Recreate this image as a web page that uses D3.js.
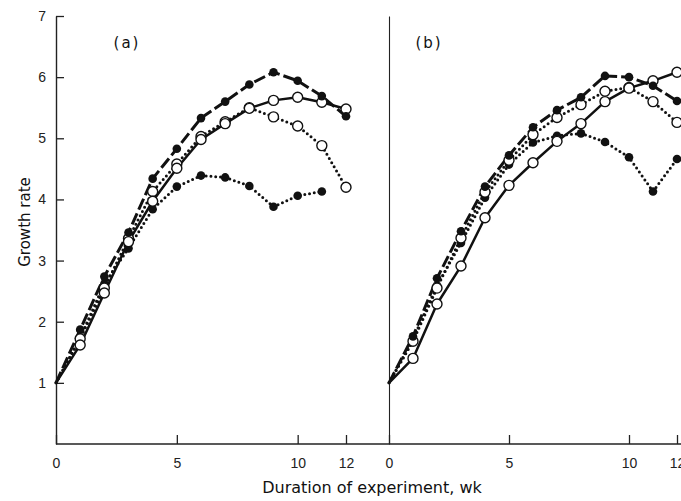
<!DOCTYPE html>
<html>
<head>
<meta charset="utf-8">
<script src="https://cdn.jsdelivr.net/npm/d3@7"></script>
<style>
  body { margin: 0; background: #fff; }
  svg { display: block; font-family: "DejaVu Sans", sans-serif; }
  .tick line { stroke: #222; stroke-width: 1.3; }
  .tick text { fill: #222; font-size: 14px; }
</style>
</head>
<body>
<div id="vis"></div>
<script>
// weeks of the experiment
var weeks = [0, 1, 2, 3, 4, 5, 6, 7, 8, 9, 10, 11, 12];
var yTicks = [1, 2, 3, 4, 5, 6, 7];
var xTicks = [0, 5, 10, 12];

// panel (a)
var aDashedFilled = [1, 1.87, 2.74, 3.46, 4.34, 4.83, 5.33, 5.60, 5.88, 6.08, 5.94, 5.69, 5.36];
var aSolidOpen    = [1, 1.62, 2.47, 3.31, 3.97, 4.51, 4.98, 5.24, 5.49, 5.62, 5.67, 5.59, 5.48];
var aDottedOpen   = [1, 1.72, 2.55, 3.36, 4.13, 4.58, 5.03, 5.27, 5.50, 5.35, 5.20, 4.88, 4.20];
var aDottedFilled = [1, 1.74, 2.62, 3.20, 3.84, 4.21, 4.39, 4.36, 4.22, 3.88, 4.06, 4.13];

// panel (b)
var bDashedFilled = [1, 1.76, 2.71, 3.48, 4.21, 4.72, 5.18, 5.46, 5.67, 6.02, 6.00, 5.86, 5.61];
var bSolidOpen    = [1, 1.40, 2.29, 2.91, 3.70, 4.23, 4.60, 4.95, 5.24, 5.60, 5.82, 5.94, 6.08];
var bDottedOpen   = [1, 1.68, 2.55, 3.37, 4.12, 4.64, 5.06, 5.34, 5.55, 5.77, 5.83, 5.60, 5.26];
var bDottedFilled = [1, 1.72, 2.59, 3.29, 4.03, 4.57, 4.93, 5.04, 5.08, 4.94, 4.69, 4.13, 4.66];

var width = 681;
var height = 501;

var svg = d3.select('#vis')
  .append('svg')
  .attr('width', width)
  .attr('height', height);

var y = d3.scaleLinear().domain([0, 7]).range([444, 16]);
var xA = d3.scaleLinear().domain([0, 12]).range([56, 346]);
var xB = d3.scaleLinear().domain([0, 12]).range([389, 677]);

var styles = {
  dashed: { width: 3, dash: '12,4', cap: 'butt' },
  solid: { width: 2.5, dash: null, cap: 'butt' },
  dotted: { width: 3, dash: '0,4.8', cap: 'round' }
};

function series(vals, style, open) {
  return { vals: vals, style: style, open: open };
}

var panels = [
  { x: xA, label: '(a)', labelX: 127, showY: true, series: [
    series(aDottedFilled, 'dotted', false),
    series(aDottedOpen, 'dotted', true),
    series(aSolidOpen, 'solid', true),
    series(aDashedFilled, 'dashed', false)
  ] },
  { x: xB, label: '(b)', labelX: 429, showY: false, series: [
    series(bDottedFilled, 'dotted', false),
    series(bDottedOpen, 'dotted', true),
    series(bSolidOpen, 'solid', true),
    series(bDashedFilled, 'dashed', false)
  ] }
];

// baseline runs across both panels
svg.append('line')
  .attr('x1', xA(0)).attr('x2', width)
  .attr('y1', y(0)).attr('y2', y(0))
  .attr('stroke', '#222').attr('stroke-width', 1.4);

panels.forEach(function (p) {
  var g = svg.append('g');

  // vertical axis
  var yAxis = d3.axisRight(y)
    .tickValues(p.showY ? yTicks : [])
    .tickSize(8)
    .tickSizeOuter(0)
    .tickFormat(d3.format('d'));
  var ya = g.append('g')
    .attr('transform', 'translate(' + p.x(0) + ',0)')
    .call(yAxis);
  ya.select('.domain').attr('stroke', '#222').attr('stroke-width', p.showY ? 1.4 : 1.1);
  ya.selectAll('.tick text')
    .attr('x', -10)
    .attr('text-anchor', 'end');

  // horizontal axis ticks
  var xAxis = d3.axisTop(p.x)
    .tickValues(xTicks)
    .tickSize(9)
    .tickSizeOuter(0)
    .tickFormat(d3.format('d'));
  var xa = g.append('g')
    .attr('transform', 'translate(0,' + y(0) + ')')
    .call(xAxis);
  xa.select('.domain').remove();
  xa.selectAll('.tick text')
    .attr('y', 19)
    .attr('dy', '0.35em');

  g.append('text')
    .attr('x', p.labelX)
    .attr('y', 48)
    .attr('text-anchor', 'middle')
    .attr('font-size', 15)
    .attr('letter-spacing', 2)
    .attr('fill', '#111')
    .text(p.label);

  var line = d3.line()
    .x(function (d, i) { return p.x(weeks[i]); })
    .y(function (d) { return y(d); });

  p.series.forEach(function (s) {
    var st = styles[s.style];
    g.append('path')
      .datum(s.vals)
      .attr('d', line)
      .attr('fill', 'none')
      .attr('stroke', '#111')
      .attr('stroke-width', st.width)
      .attr('stroke-linecap', st.cap)
      .attr('stroke-linejoin', 'round')
      .attr('stroke-dasharray', st.dash);
  });

  p.series.forEach(function (s) {
    g.selectAll(null)
      .data(s.vals.slice(1))
      .enter()
      .append('circle')
      .attr('cx', function (d, i) { return p.x(weeks[i + 1]); })
      .attr('cy', function (d) { return y(d); })
      .attr('r', s.open ? 5 : 4.3)
      .attr('fill', s.open ? '#fff' : '#111')
      .attr('stroke', '#111')
      .attr('stroke-width', s.open ? 1.4 : 0);
  });
});

svg.append('text')
  .attr('transform', 'translate(25,222) rotate(-90)')
  .attr('text-anchor', 'middle')
  .attr('dy', '0.35em')
  .attr('font-size', 15)
  .attr('fill', '#111')
  .text('Growth rate');

svg.append('text')
  .attr('x', 372)
  .attr('y', 493)
  .attr('text-anchor', 'middle')
  .attr('font-size', 16)
  .attr('fill', '#111')
  .text('Duration of experiment, wk');
</script>
</body>
</html>
